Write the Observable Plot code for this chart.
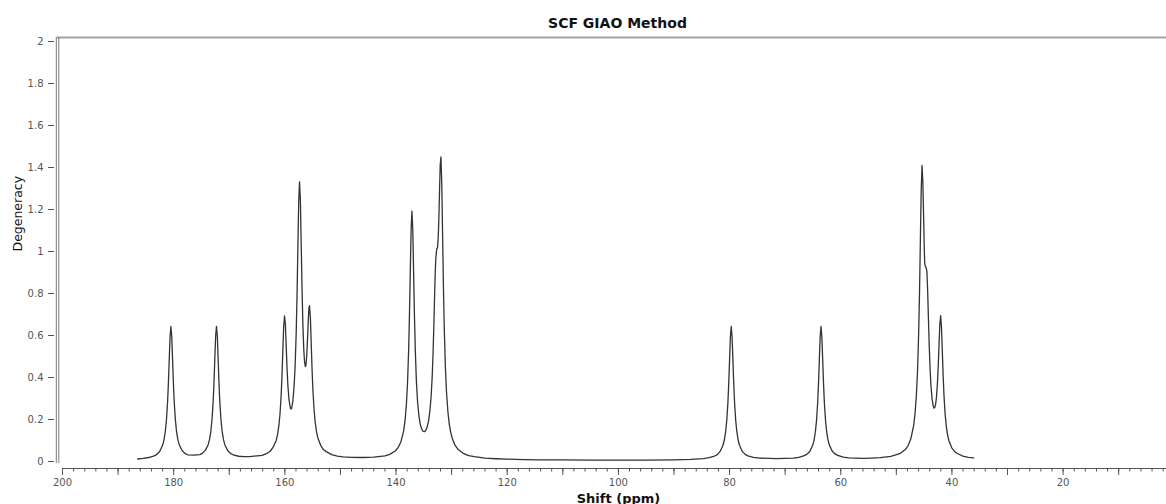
<!DOCTYPE html>
<html>
<head>
<meta charset="utf-8">
<script src="https://cdn.jsdelivr.net/npm/d3@7"></script>
<script src="https://cdn.jsdelivr.net/npm/@observablehq/plot@0.6"></script>
<style>
  html, body { margin: 0; padding: 0; background: #fff; }
  #chart svg { display: block; }
</style>
</head>
<body>
<div id="chart"></div>
<script>
// ---- Data (shift in ppm, degeneracy) ----
const shift = [
  186.5, 185.5, 184.5, 183.5, 183.0, 182.5, 182.0, 181.75, 181.5, 181.3, 181.1, 180.95, 180.8, 180.65,
  180.5, 180.35, 180.2, 180.05, 179.9, 179.7, 179.5, 179.25, 179.0, 178.5, 178.0, 177.5, 176.4,
  175.3, 174.8, 174.3, 173.8, 173.55, 173.3, 173.1, 172.9, 172.75, 172.6, 172.45,
  172.3, 172.15, 172.0, 171.85, 171.7, 171.5, 171.3, 171.05, 170.8, 170.3, 169.8, 169.3, 168.3, 167.3, 166.3,
  165.0, 164.1, 163.1, 162.6, 162.1, 161.56, 161.31, 161.06, 160.86, 160.66, 160.51, 160.36, 160.21,
  160.06, 159.91, 159.76, 159.61, 159.46, 159.26, 159.06, 158.96, 158.86, 158.76, 158.56, 158.36, 158.16,
  157.96, 157.81, 157.66, 157.51, 157.36, 157.21, 157.06, 156.91, 156.76, 156.61, 156.46, 156.31, 156.21,
  156.06, 155.91, 155.76, 155.66, 155.56, 155.41, 155.26, 155.11, 154.96, 154.76, 154.56, 154.31, 154.06,
  153.56, 153.06, 152.56, 151.56, 150.56, 149.56, 148.0, 146.0, 144.0, 142.0,
  141.14, 140.14, 139.64, 139.14, 138.64, 138.39, 138.14, 137.94, 137.74, 137.59, 137.44, 137.29,
  137.14, 136.99, 136.84, 136.69, 136.54, 136.34, 136.14, 135.89, 135.64, 135.39, 135.14, 134.89,
  134.64, 134.39, 134.14, 133.89, 133.69, 133.49, 133.34, 133.19, 133.04, 132.94, 132.85, 132.75,
  132.65, 132.55, 132.45, 132.35, 132.25, 132.15, 132.05, 131.92, 131.77, 131.62, 131.47, 131.32,
  131.12, 130.92, 130.67, 130.42, 130.17, 129.92, 129.42, 128.92, 127.92, 126.92, 125.92, 124.0,
  122.0, 120.0, 117.0, 114.0, 110.0, 105.0, 100.0, 95.0, 90.0, 87.0,
  84.7, 83.7, 82.7, 82.2, 81.7, 81.2, 80.95, 80.7, 80.5, 80.3, 80.15, 80.0, 79.85,
  79.7, 79.55, 79.4, 79.25, 79.1, 78.9, 78.7, 78.45, 78.2, 77.7, 77.2, 76.7, 75.7, 74.7, 71.6,
  68.55, 67.55, 66.55, 66.05, 65.55, 65.05, 64.8, 64.55, 64.35, 64.15, 64.0, 63.85, 63.7,
  63.55, 63.4, 63.25, 63.1, 62.95, 62.75, 62.55, 62.3, 62.05, 61.55, 61.05, 60.55, 59.55, 58.55,
  56.0, 54.5, 52.9, 51.0, 49.38, 48.38, 47.88, 47.38, 46.88, 46.63, 46.38, 46.18, 45.98, 45.83,
  45.68, 45.53, 45.38, 45.23, 45.08, 44.98, 44.9, 44.8, 44.66, 44.5, 44.36, 44.22, 44.07, 43.92,
  43.77, 43.57, 43.37, 43.22, 43.07, 42.92, 42.77, 42.62, 42.47, 42.33, 42.18, 42.03, 41.88,
  41.73, 41.58, 41.43, 41.23, 41.03, 40.78, 40.53, 40.03, 39.53, 39.03, 38.03, 37.03, 36.1
];
const degeneracy = [
  0.012, 0.015, 0.019, 0.027, 0.034, 0.049, 0.077, 0.102, 0.144, 0.198, 0.281, 0.372, 0.485, 0.595,
  0.643, 0.596, 0.486, 0.374, 0.283, 0.200, 0.146, 0.104, 0.080, 0.052, 0.039, 0.032, 0.030,
  0.033, 0.040, 0.053, 0.080, 0.105, 0.147, 0.201, 0.284, 0.375, 0.488, 0.598,
  0.643, 0.598, 0.488, 0.375, 0.284, 0.201, 0.147, 0.105, 0.080, 0.052, 0.039, 0.032, 0.025, 0.023, 0.023,
  0.027, 0.029, 0.040, 0.050, 0.068, 0.100, 0.128, 0.174, 0.231, 0.319, 0.413, 0.531, 0.644,
  0.693, 0.655, 0.552, 0.446, 0.364, 0.295, 0.262, 0.252, 0.250, 0.256, 0.288, 0.350, 0.449,
  0.612, 0.790, 1.016, 1.235, 1.332, 1.245, 1.036, 0.822, 0.655, 0.540, 0.475, 0.452, 0.458,
  0.505, 0.590, 0.688, 0.734, 0.742, 0.684, 0.564, 0.442, 0.343, 0.252, 0.191, 0.142, 0.112,
  0.077, 0.057, 0.047, 0.033, 0.026, 0.022, 0.020, 0.019, 0.021, 0.027,
  0.034, 0.050, 0.066, 0.092, 0.145, 0.192, 0.270, 0.369, 0.524, 0.690, 0.899, 1.101,
  1.192, 1.104, 0.904, 0.698, 0.534, 0.384, 0.289, 0.218, 0.177, 0.155, 0.144, 0.142,
  0.149, 0.166, 0.195, 0.245, 0.308, 0.407, 0.513, 0.652, 0.813, 0.906, 0.963, 0.996,
  1.015, 1.016, 1.048, 1.110, 1.205, 1.315, 1.413, 1.450, 1.319, 1.073, 0.826, 0.631,
  0.448, 0.330, 0.237, 0.178, 0.140, 0.113, 0.079, 0.060, 0.039, 0.028, 0.023, 0.016,
  0.013, 0.011, 0.009, 0.008, 0.008, 0.007, 0.007, 0.007, 0.008, 0.010,
  0.014, 0.018, 0.026, 0.033, 0.048, 0.076, 0.101, 0.143, 0.197, 0.280, 0.371, 0.484, 0.594,
  0.643, 0.594, 0.484, 0.371, 0.280, 0.197, 0.143, 0.101, 0.076, 0.048, 0.034, 0.027, 0.020, 0.016, 0.014,
  0.016, 0.020, 0.028, 0.035, 0.049, 0.077, 0.102, 0.144, 0.198, 0.281, 0.372, 0.485, 0.595,
  0.643, 0.595, 0.486, 0.373, 0.282, 0.199, 0.145, 0.103, 0.078, 0.050, 0.036, 0.029, 0.021, 0.017,
  0.015, 0.016, 0.018, 0.024, 0.037, 0.057, 0.076, 0.109, 0.172, 0.230, 0.321, 0.436, 0.614, 0.805,
  1.046, 1.286, 1.410, 1.330, 1.150, 1.020, 0.945, 0.930, 0.925, 0.905, 0.807, 0.675, 0.542, 0.437,
  0.361, 0.298, 0.264, 0.254, 0.258, 0.275, 0.309, 0.366, 0.449, 0.548, 0.651, 0.694, 0.640,
  0.526, 0.409, 0.315, 0.228, 0.171, 0.126, 0.098, 0.065, 0.048, 0.038, 0.026, 0.020, 0.017
];

// ---- Axis ticks and texts ----
const xLabelTicks = [200, 180, 160, 140, 120, 100, 80, 60, 40, 20];
const xTenTicks = [200, 190, 180, 170, 160, 150, 140, 130, 120, 110, 100, 90, 80, 70, 60, 50, 40, 30, 20, 10];
const xMinorTicks = d3.range(198, 1, -2);
const yTicks = [0, 0.2, 0.4, 0.6, 0.8, 1, 1.2, 1.4, 1.6, 1.8, 2];
const titleText = "SCF GIAO Method";
const xLabelText = "Shift (ppm)";
const yLabelText = "Degeneracy";

const spectrum = shift.map((s, i) => ({shift: s, degeneracy: degeneracy[i]}));

const xLeft = 200, xRight = 1.4, frameLeft = 200.9;

const chart = Plot.plot({
  width: 1166,
  height: 504,
  marginLeft: 62,
  marginRight: 0,
  marginTop: 41,
  marginBottom: 43,
  style: {fontFamily: "'DejaVu Sans', Verdana, sans-serif", background: "#fff", overflow: "visible"},
  x: {domain: [xLeft, xRight], axis: null},
  y: {domain: [0, 2], axis: null},
  marks: [
    // frame: top border and double left border
    Plot.ruleY([2], {x1: frameLeft, x2: xRight, dy: -4, stroke: "#a3a3a3", strokeWidth: 2}),
    Plot.ruleX([frameLeft], {y1: -0.01, y2: 2.019, dx: -1.2, stroke: "#7a7a7a", strokeWidth: 1}),
    Plot.ruleX([frameLeft], {y1: -0.01, y2: 2.019, dx: 1.3, stroke: "#7a7a7a", strokeWidth: 1}),
    // y axis
    Plot.axisY({ticks: yTicks, tickSize: 6, tickPadding: 5, dx: -8, tickFormat: d3.format("~g"),
      fontSize: 10, color: "#555", label: null}),
    // x axis line and ticks
    Plot.ruleY([0], {x1: xLeft, x2: xRight, dy: 7, stroke: "#555", strokeWidth: 1}),
    Plot.axisX({ticks: xMinorTicks, tickSize: 3.5, dy: 7, tickFormat: () => "", color: "#555", label: null}),
    Plot.axisX({ticks: xTenTicks, tickSize: 7, tickPadding: 3, dy: 7, fontSize: 10, color: "#555",
      tickFormat: d => (xLabelTicks.includes(d) ? String(d) : ""), label: null}),
    // spectrum
    Plot.line(spectrum, {x: "shift", y: "degeneracy", stroke: "#333", strokeWidth: 1.3}),
    // texts
    Plot.text([titleText], {frameAnchor: "top", lineAnchor: "middle", dy: -18, dx: 3,
      fontWeight: "bold", fontSize: 14, fill: "#111"}),
    Plot.text([xLabelText], {frameAnchor: "bottom", lineAnchor: "middle", dy: 37, dx: 4,
      fontWeight: "bold", fontSize: 13, fill: "#111"}),
    Plot.text([yLabelText], {frameAnchor: "left", lineAnchor: "middle", rotate: -90, dx: -45,
      fontSize: 12.5, fill: "#111"})
  ]
});

document.getElementById("chart").appendChild(chart);
</script>
</body>
</html>
